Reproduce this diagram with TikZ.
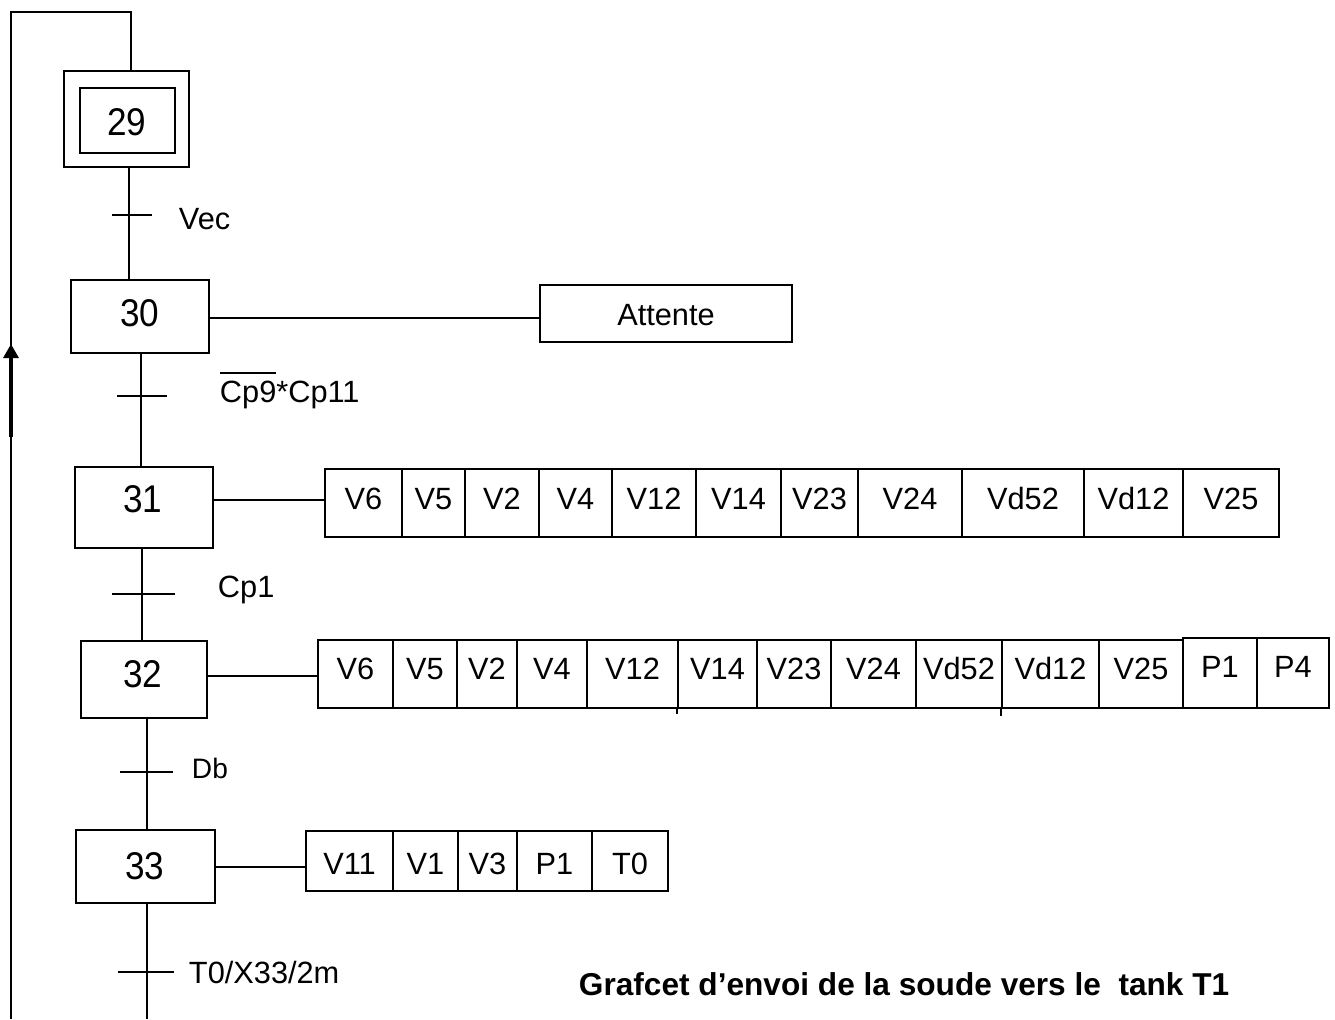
\documentclass[tikz,border=0pt]{standalone}
\usepackage{fontspec}
\setmainfont{Liberation Sans}
\usetikzlibrary{fit,calc,arrows.meta}
\newsavebox\cpbox
\newcommand\actcell[7]{% name, x1, x2, y1, y2, text, baseline y
  \node[box, fit={(#2,#4) (#3,#5)}] (#1) {};
  \node[act] (#1t) at ({(#2+#3)/2},#7) {#6};}
\begin{document}
\begin{tikzpicture}[x=0.02cm,y=-0.02cm, line width=1.1pt,
  box/.style={draw, inner sep=0pt, line width=1.1pt},
  steptext/.style={font=\fontsize{20}{24}\selectfont, inner sep=0pt, anchor=base},
  lbl/.style={font=\fontsize{17.5}{21}\selectfont, inner sep=0pt, anchor=base west},
  act/.style={font=\fontsize{17.5}{21}\selectfont, inner sep=0pt, anchor=base},
]
\useasboundingbox (0,0) rectangle (1335,1019);

% steps
\node[box, fit={(64,71) (189,167)}] (s29) {};
\node[box, fit={(80,88) (175,153)}] (s29i) {};
\node[steptext] (n29) at (127,135) {\scalebox{1}[1.1]{29}};
\node[box, fit={(71,280) (209,353)}] (s30) {};
\node[steptext] (n30) at (140,326) {\scalebox{1}[1.1]{30}};
\node[box, fit={(75,467) (213,548)}] (s31) {};
\node[steptext] (n31) at (143,512) {\scalebox{1}[1.1]{31}};
\node[box, fit={(81,641) (207,718)}] (s32) {};
\node[steptext] (n32) at (143,687) {\scalebox{1}[1.1]{32}};
\node[box, fit={(76,830) (215,903)}] (s33) {};
\node[steptext] (n33) at (145,879) {\scalebox{1}[1.1]{33}};

% transitions
\coordinate (t1) at (129,215);
\coordinate (t2) at (141,396);
\coordinate (t3) at (142,594);
\coordinate (t4) at (147,772);
\coordinate (t5) at (147,972);
\coordinate (bot) at (147,1019);
\draw (s29.south -| t1) -- (s30.north -| t1);
\draw (s30.south -| t2) -- (s31.north -| t2);
\draw (s31.south -| t3) -- (s32.north -| t3);
\draw (s32.south -| t4) -- (s33.north -| t4);
\draw (s33.south -| t5) -- (bot);
\draw ($(t1)+(-17,0)$) -- ($(t1)+(23,0)$);
\draw ($(t2)+(-24,0)$) -- ($(t2)+(26,0)$);
\draw ($(t3)+(-30,0)$) -- ($(t3)+(33,0)$);
\draw ($(t4)+(-27,0)$) -- ($(t4)+(26,0)$);
\draw ($(t5)+(-29,0)$) -- ($(t5)+(27,0)$);

\node[lbl] (l1) at (178,229) {Vec};
\node[lbl] (l2) at (219,402) {\sbox\cpbox{Cp9}\rlap{\rule[\dimexpr\ht\cpbox+4pt\relax]{\wd\cpbox}{1pt}}\usebox\cpbox*Cp11};
\node[lbl] (l3) at (217,597) {Cp1};
\node[lbl, font=\fontsize{16}{19}\selectfont] (l4) at (191,778) {Db};
\node[lbl] (l5) at (188,983) {T0/X33/2m};

% loop back
\coordinate (lb) at (11,1019);
\coordinate (lt) at (11,12);
\coordinate (rt) at (131,12);
\coordinate (ab) at (11,437);
\coordinate (at) at (11,344);
\draw (lb) -- (lt) -- (rt) -- (s29.north -| rt);
\draw[line width=1.8pt, -{Triangle[length=0.28cm,width=0.3cm]}] (ab) -- (at);

% actions step 30
\node[box, fit={(540,285) (792,342)}] (att) {};
\node[act] (attt) at (666,325) {Attente};
\coordinate (h30) at (0,318);
\draw (s30.east |- h30) -- (att.west |- h30);

% actions step 31
\actcell{a31a}{325}{402}{469}{537}{V6}{509}
\actcell{a31b}{402}{465}{469}{537}{V5}{509}
\actcell{a31c}{465}{539}{469}{537}{V2}{509}
\actcell{a31d}{539}{612}{469}{537}{V4}{509}
\actcell{a31e}{612}{696}{469}{537}{V12}{509}
\actcell{a31f}{696}{781}{469}{537}{V14}{509}
\actcell{a31g}{781}{858}{469}{537}{V23}{509}
\actcell{a31h}{858}{962}{469}{537}{V24}{509}
\actcell{a31i}{962}{1084}{469}{537}{Vd52}{509}
\actcell{a31j}{1084}{1183}{469}{537}{Vd12}{509}
\actcell{a31k}{1183}{1279}{469}{537}{V25}{509}
\coordinate (h31) at (0,500);
\draw (s31.east |- h31) -- (a31a.west |- h31);

% actions step 32
\actcell{a32a}{318}{393}{640}{708}{V6}{679}
\actcell{a32b}{393}{457}{640}{708}{V5}{679}
\actcell{a32c}{457}{517}{640}{708}{V2}{679}
\actcell{a32d}{517}{587}{640}{708}{V4}{679}
\actcell{a32e}{587}{678}{640}{708}{V12}{679}
\actcell{a32f}{678}{757}{640}{708}{V14}{679}
\actcell{a32g}{757}{831}{640}{708}{V23}{679}
\actcell{a32h}{831}{916}{640}{708}{V24}{679}
\actcell{a32i}{916}{1002}{640}{708}{Vd52}{679}
\actcell{a32j}{1002}{1099}{640}{708}{Vd12}{679}
\actcell{a32k}{1099}{1183}{640}{708}{V25}{679}
\actcell{a32l}{1183}{1257}{638}{708}{P1}{677}
\actcell{a32m}{1257}{1329}{638}{708}{P4}{677}
\draw (a32f.south west) -- ++(0,5);
\draw (a32j.south west) -- ++(0,7);
\coordinate (h32) at (0,676);
\draw (s32.east |- h32) -- (a32a.west |- h32);

% actions step 33
\actcell{a33a}{306}{393}{831}{891}{V11}{874}
\actcell{a33b}{393}{458}{831}{891}{V1}{874}
\actcell{a33c}{458}{517}{831}{891}{V3}{874}
\actcell{a33d}{517}{592}{831}{891}{P1}{874}
\actcell{a33e}{592}{668}{831}{891}{T0}{874}
\coordinate (h33) at (0,867);
\draw (s33.east |- h33) -- (a33a.west |- h33);

% title
\node[anchor=base west, inner sep=0pt, font=\bfseries\fontsize{18}{22}\selectfont] (title) at (578,995) {Grafcet d’envoi de la soude vers le\ \ tank T1};
\end{tikzpicture}
\end{document}
